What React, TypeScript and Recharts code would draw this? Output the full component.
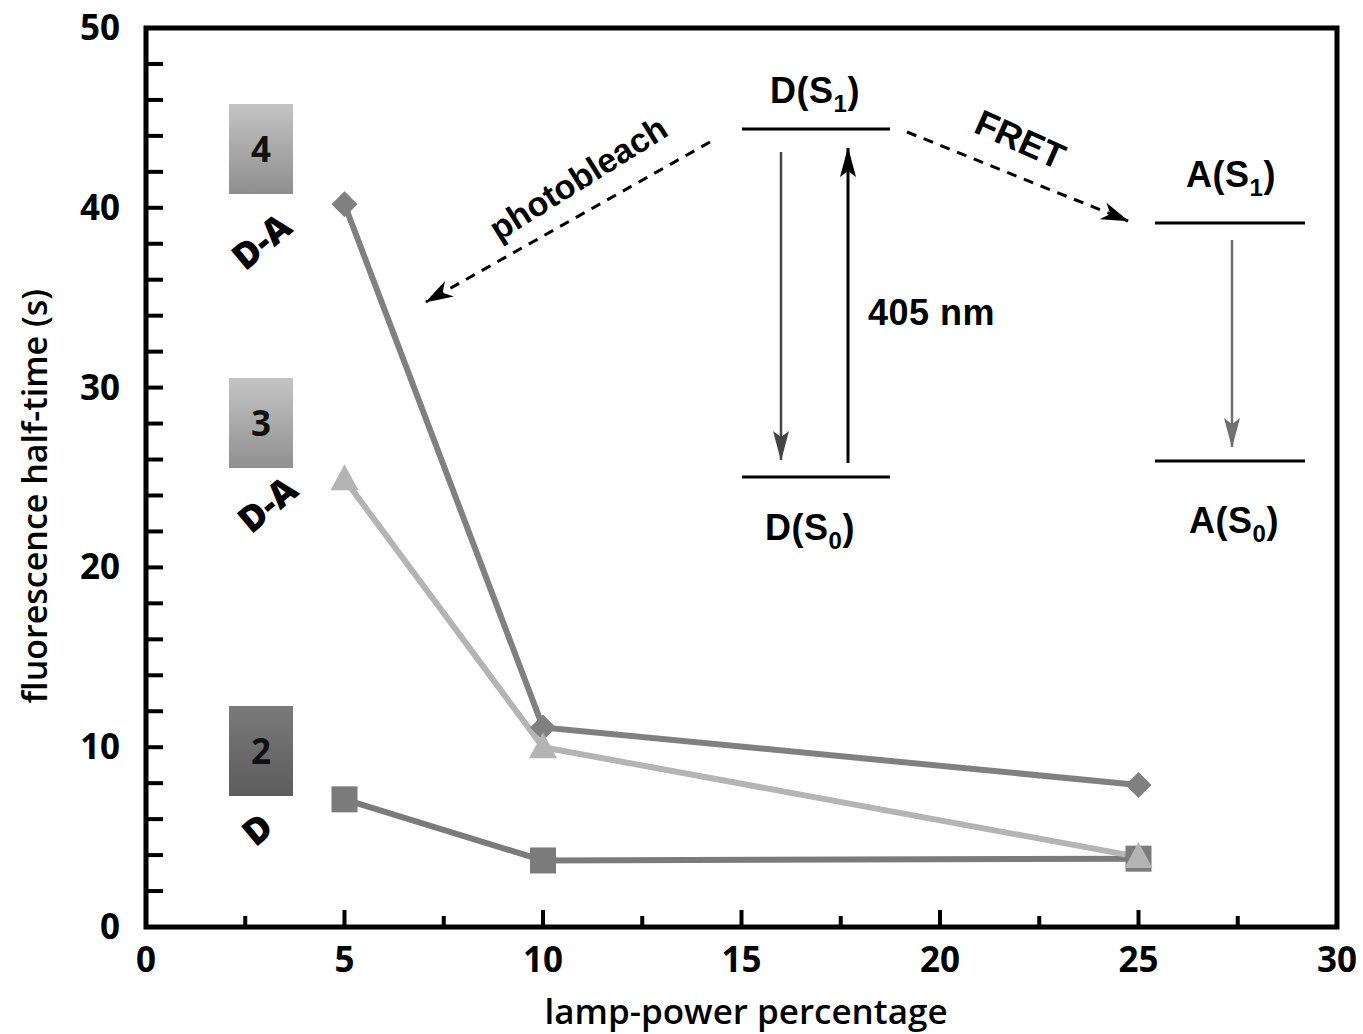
import React from "react"
import { LineChart, Line, XAxis, YAxis, ReferenceArea } from "recharts"

// lamp power (%) and half-times (s)
const lampPower = [5, 10, 25]
const halfTimeD2 = [7.1, 3.7, 3.8]
const halfTimeDA4 = [40.2, 11.1, 7.9]
const halfTimeDA3 = [24.9, 10.0, 3.9]

const xTicks = [0, 2.5, 5, 7.5, 10, 12.5, 15, 17.5, 20, 22.5, 25, 27.5, 30]
const yTicks = [0, 2, 4, 6, 8, 10, 12, 14, 16, 18, 20, 22, 24, 26, 28, 30, 32, 34, 36, 38, 40, 42, 44, 46, 48, 50]

const data = lampPower.map((x, i) => ({
  x,
  d2: halfTimeD2[i],
  da4: halfTimeDA4[i],
  da3: halfTimeDA3[i],
}))

const AXIS_FONT = "'Open Sans', 'DejaVu Sans', sans-serif"
const DIAG_FONT = "'Liberation Sans', Arial, sans-serif"

function XTick({ x, y, payload }: any) {
  const major = payload.value % 5 === 0
  return (
    <g>
      <line x1={x} x2={x} y1={y} y2={y - (major ? 17 : 11)} stroke="#000" strokeWidth={4} />
      {major && (
        <text x={x} y={y + 45} textAnchor="middle" fontSize={35} fontWeight={700} fontFamily={AXIS_FONT} fill="#000">
          {payload.value}
        </text>
      )}
    </g>
  )
}

function YTick({ x, y, payload }: any) {
  const major = payload.value % 10 === 0
  return (
    <g>
      <line x1={x} x2={x + 17} y1={y} y2={y} stroke="#000" strokeWidth={4} />
      {major && (
        <text x={x - 26} y={y + 12} textAnchor="end" fontSize={35} fontWeight={700} fontFamily={AXIS_FONT} fill="#000">
          {payload.value}
        </text>
      )}
    </g>
  )
}

function SquareDot({ cx, cy }: any) {
  if (cx == null || cy == null) return null
  return <rect x={cx - 13} y={cy - 13} width={26} height={26} fill="#7b7b7b" />
}

function DiamondDot({ cx, cy }: any) {
  if (cx == null || cy == null) return null
  const r = 13
  return <polygon points={`${cx},${cy - r} ${cx + r},${cy} ${cx},${cy + r} ${cx - r},${cy}`} fill="#808080" />
}

function TriangleDot({ cx, cy }: any) {
  if (cx == null || cy == null) return null
  return <polygon points={`${cx},${cy - 15} ${cx + 14},${cy + 11} ${cx - 14},${cy + 11}`} fill="#b4b4b4" />
}

function SampleBox({ x, y, label, top, bottom, id }: { x: number; y: number; label: string; top: string; bottom: string; id: string }) {
  return (
    <g>
      <defs>
        <linearGradient id={id} x1="0" y1="0" x2="0" y2="1">
          <stop offset="0%" stopColor={top} />
          <stop offset="100%" stopColor={bottom} />
        </linearGradient>
      </defs>
      <rect x={x} y={y} width={64} height={90} fill={`url(#${id})`} />
      <text x={x + 32} y={y + 58} textAnchor="middle" fontSize={35} fontWeight={700} fontFamily={AXIS_FONT} fill="#111">
        {label}
      </text>
    </g>
  )
}

function Level({ text, sub, x, y }: { text: string; sub: string; x: number; y: number }) {
  return (
    <text x={x} y={y} textAnchor="middle" fontSize={36} fontWeight={700} fontFamily={DIAG_FONT} fill="#000" letterSpacing={0.5}>
      {text}(S
      <tspan fontSize={24} dy={9}>{sub}</tspan>
      <tspan dy={-9}>)</tspan>
    </text>
  )
}

function Overlay() {
  return (
    <svg width={1363} height={1034} style={{ position: "absolute", left: 0, top: 0, pointerEvents: "none" }}>
      <defs>
        <marker id="headUp" viewBox="0 0 30 16" refX="29" refY="8" markerWidth="30" markerHeight="16" markerUnits="userSpaceOnUse" orient="auto">
          <path d="M0,0 L30,8 L0,16 L6,8 Z" fill="#000" />
        </marker>
        <marker id="headDark" viewBox="0 0 30 16" refX="29" refY="8" markerWidth="30" markerHeight="16" markerUnits="userSpaceOnUse" orient="auto">
          <path d="M0,0 L30,8 L0,16 L6,8 Z" fill="#454545" />
        </marker>
        <marker id="headGray" viewBox="0 0 30 16" refX="29" refY="8" markerWidth="30" markerHeight="16" markerUnits="userSpaceOnUse" orient="auto">
          <path d="M0,0 L30,8 L0,16 L6,8 Z" fill="#707070" />
        </marker>
        <marker id="headDash" viewBox="0 0 28 18" refX="27" refY="9" markerWidth="28" markerHeight="18" markerUnits="userSpaceOnUse" orient="auto">
          <path d="M0,0 L28,9 L0,18 L8,9 Z" fill="#000" />
        </marker>
      </defs>

      {/* sample boxes */}
      <SampleBox id="g4" x={229} y={104} label="4" top="#c4c4c4" bottom="#8e8e8e" />
      <SampleBox id="g3" x={229} y={378} label="3" top="#c4c4c4" bottom="#909090" />
      <SampleBox id="g2" x={229} y={706} label="2" top="#7a7a7a" bottom="#5c5c5c" />
      <text x={262} y={254} textAnchor="middle" fontSize={36} fontWeight={800} fontFamily={AXIS_FONT} transform="rotate(-40 262 242)">D-A</text>
      <text x={268} y={517} textAnchor="middle" fontSize={36} fontWeight={800} fontFamily={AXIS_FONT} transform="rotate(-40 268 505)">D-A</text>
      <text x={258} y={842} textAnchor="middle" fontSize={36} fontWeight={800} fontFamily={AXIS_FONT} transform="rotate(-40 258 830)">D</text>

      {/* energy levels */}
      <line x1={742} x2={890} y1={129} y2={129} stroke="#000" strokeWidth={3} />
      <line x1={742} x2={890} y1={477} y2={477} stroke="#000" strokeWidth={3} />
      <line x1={1155} x2={1305} y1={223} y2={223} stroke="#000" strokeWidth={3} />
      <line x1={1155} x2={1305} y1={461} y2={461} stroke="#000" strokeWidth={3} />
      <Level text="D" sub="1" x={815} y={103} />
      <Level text="D" sub="0" x={810} y={540} />
      <Level text="A" sub="1" x={1231} y={187} />
      <Level text="A" sub="0" x={1234} y={533} />

      <line x1={781} x2={781} y1={152} y2={460} stroke="#454545" strokeWidth={2.5} markerEnd="url(#headDark)" />
      <line x1={848} x2={848} y1={463} y2={148} stroke="#000" strokeWidth={3} markerEnd="url(#headUp)" />
      <line x1={1232} x2={1232} y1={240} y2={447} stroke="#707070" strokeWidth={2.5} markerEnd="url(#headGray)" />
      <text x={868} y={325} fontSize={36} fontWeight={700} fontFamily={DIAG_FONT} letterSpacing={0.5}>405 nm</text>

      {/* FRET and photobleach */}
      <line x1={907} x2={1128} y1={132} y2={221} stroke="#000" strokeWidth={3} strokeDasharray="10 8" markerEnd="url(#headDash)" />
      <text x={1020} y={152} textAnchor="middle" fontSize={36} fontWeight={700} fontFamily={DIAG_FONT} transform="rotate(24 1020 140)">FRET</text>
      <line x1={710} x2={426} y1={142} y2={302} stroke="#000" strokeWidth={3} strokeDasharray="10 8" markerEnd="url(#headDash)" />
      <text x={578} y={190} textAnchor="middle" fontSize={34} fontWeight={700} fontFamily={DIAG_FONT} transform="rotate(-32 578 178)">photobleach</text>

      {/* axis titles */}
      <text x={746} y={1024} textAnchor="middle" fontSize={35} fontWeight={600} fontFamily={AXIS_FONT}>lamp-power percentage</text>
      <text x={47} y={496} textAnchor="middle" fontSize={34} fontWeight={600} fontFamily={AXIS_FONT} transform="rotate(-90 47 496)">fluorescence half-time (s)</text>
    </svg>
  )
}

export default function App() {
  return (
    <div style={{ position: "absolute", left: 0, top: 0, width: 1363, height: 1034, background: "#fff" }}>
      <LineChart width={1363} height={1034} data={data} margin={{ top: 28, right: 26, bottom: 0, left: 0 }}>
        <XAxis
          type="number"
          dataKey="x"
          domain={[0, 30]}
          ticks={xTicks}
          interval={0}
          tickSize={0}
          tickMargin={0}
          axisLine={false}
          tickLine={false}
          height={107}
          tick={<XTick />}
        />
        <YAxis
          type="number"
          domain={[0, 50]}
          ticks={yTicks}
          interval={0}
          tickSize={0}
          tickMargin={0}
          axisLine={false}
          tickLine={false}
          width={146}
          tick={<YTick />}
        />
        <ReferenceArea x1={0} x2={30} y1={0} y2={50} fill="none" stroke="#000" strokeWidth={5} ifOverflow="visible" />
        <Line dataKey="d2" stroke="#7b7b7b" strokeWidth={6} dot={(p: any) => <SquareDot key={`s${p.index}`} {...p} />} activeDot={false} isAnimationActive={false} />
        <Line dataKey="da4" stroke="#808080" strokeWidth={6} dot={(p: any) => <DiamondDot key={`d${p.index}`} {...p} />} activeDot={false} isAnimationActive={false} />
        <Line dataKey="da3" stroke="#b4b4b4" strokeWidth={6} dot={(p: any) => <TriangleDot key={`t${p.index}`} {...p} />} activeDot={false} isAnimationActive={false} />
      </LineChart>
      <Overlay />
    </div>
  )
}
